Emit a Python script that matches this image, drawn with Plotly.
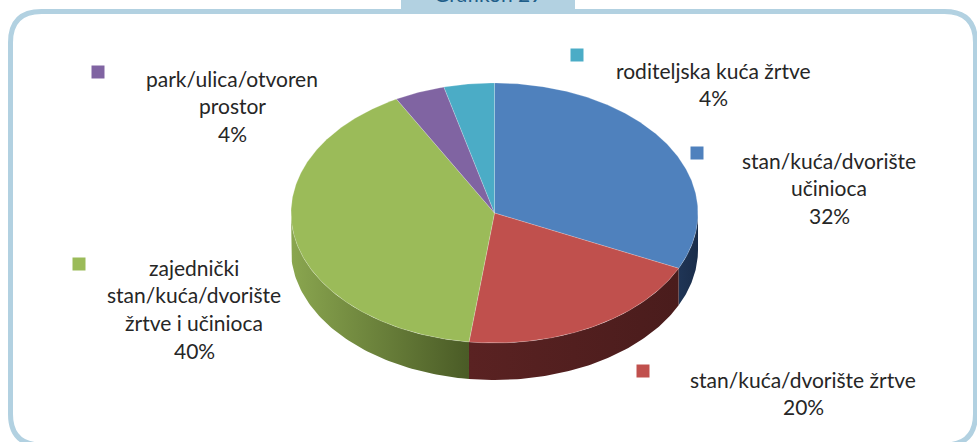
import numpy as np
import plotly.graph_objects as go

# ---------------- data ----------------
categories = [
    "stan/kuća/dvorište učinioca",
    "stan/kuća/dvorište žrtve",
    "zajednički stan/kuća/dvorište žrtve i učinioca",
    "park/ulica/otvoren prostor",
    "roditeljska kuća žrtve",
]
values = [32, 20, 40, 4, 4]
label_lines = [
    ["stan/kuća/dvorište", "učinioca"],
    ["stan/kuća/dvorište žrtve"],
    ["zajednički", "stan/kuća/dvorište", "žrtve i učinioca"],
    ["park/ulica/otvoren", "prostor"],
    ["roditeljska kuća žrtve"],
]
title_text = "Grafikon 29"

# ---------------- style ----------------
top_colors = ["#4F81BD", "#C0504D", "#9BBB59", "#8064A2", "#4BACC6"]
side_colors = [("#1F3556", "#1A2D4A"), ("#5A2222", "#4A1C1C"),
               ("#8AA64F", "#4A5B26"), ("#5A4672", "#4A3A5E"), ("#357A8C", "#2C6574")]
W, H = 977, 442
cx, cy, rx, ry, depth = 494.5, 213.0, 203.5, 130.0, 37.0
label_pos = [(829, 160), (803, 379), (194, 267), (232, 78), (713, 70)]
marker_pos = [(697, 153), (643, 371), (79, 264), (98, 72), (577, 55)]
line_h = 27.8
text_font = dict(family="Lato", size=21, color="#262626")
border_col = "#B2D1E1"

fig = go.Figure()

total = float(sum(values))
starts = np.cumsum([0] + values[:-1]) / total * 360.0
ends = np.cumsum(values) / total * 360.0


def pt(tdeg, dy=0.0):
    t = np.radians(tdeg)
    return cx + rx * np.sin(t), cy - ry * np.cos(t) + dy


# sides (front half only: 90..270 deg)
for i, (a, b) in enumerate(zip(starts, ends)):
    a2, b2 = max(a, 90.0), min(b, 270.0)
    if a2 >= b2:
        continue
    ts = np.linspace(a2, b2, 80)
    xt, yt = pt(ts)
    xb, yb = pt(ts[::-1], depth)
    xs = np.concatenate([xt, xb, xt[:1]])
    ys = np.concatenate([yt, yb, yt[:1]])
    c1, c2 = side_colors[i]
    fig.add_trace(go.Scatter(
        x=xs, y=ys, mode="lines", fill="toself",
        line=dict(width=0, color=c2),
        fillgradient=dict(type="horizontal",
                          colorscale=[[0, c1], [1, c2]]),
        hoverinfo="skip", showlegend=False))

# top slices
for i, (a, b) in enumerate(zip(starts, ends)):
    ts = np.linspace(a, b, max(int((b - a) * 2), 4))
    xt, yt = pt(ts)
    xs = np.concatenate([[cx], xt, [cx]])
    ys = np.concatenate([[cy], yt, [cy]])
    fig.add_trace(go.Scatter(
        x=xs, y=ys, mode="lines", fill="toself", fillcolor=top_colors[i],
        line=dict(width=0.6, color="rgba(255,255,255,0.35)"),
        name=categories[i], text=f"{values[i]}%",
        hoverinfo="name+text", showlegend=False))

# legend-like markers
fig.add_trace(go.Scatter(
    x=[p[0] for p in marker_pos], y=[p[1] for p in marker_pos],
    mode="markers", marker=dict(symbol="square", size=13, color=top_colors,
                                line=dict(width=0)),
    hoverinfo="skip", showlegend=False))

annotations = []
for i, lines in enumerate(label_lines):
    lx, ly = label_pos[i]
    all_lines = lines + [f"{values[i]}%"]
    for k, s in enumerate(all_lines):
        annotations.append(dict(x=lx, y=ly + k * line_h, text=s, showarrow=False,
                                xanchor="center", yanchor="middle",
                                font=text_font, xref="x", yref="y"))

annotations.append(dict(x=488 / W, y=1 + 7.0 / H, text=title_text, showarrow=False,
                        xanchor="center", yanchor="middle",
                        font=dict(family="Lato", size=21, color="#1F5F8A"),
                        xref="paper", yref="paper"))

x0, x1, y0, y1, r = 10.5, 975.5, 11.5, 445.0, 31.0
border_path = (f"M {x0 + r},{y0} L {x1 - r},{y0} Q {x1},{y0} {x1},{y0 + r} "
               f"L {x1},{y1 - r} Q {x1},{y1} {x1 - r},{y1} "
               f"L {x0 + r},{y1} Q {x0},{y1} {x0},{y1 - r} "
               f"L {x0},{y0 + r} Q {x0},{y0} {x0 + r},{y0} Z")

shapes = [
    dict(type="path", path=border_path, xref="x", yref="y",
         line=dict(color=border_col, width=5), layer="below"),
    dict(type="rect", x0=401, x1=575, y0=-10, y1=11, xref="x", yref="y",
         fillcolor=border_col, line=dict(width=0), layer="below"),
]

fig.update_layout(
    width=W, height=H, margin=dict(l=0, r=0, t=0, b=0),
    paper_bgcolor="white", plot_bgcolor="white",
    xaxis=dict(range=[0, W], visible=False, fixedrange=True),
    yaxis=dict(range=[H, 0], visible=False, fixedrange=True),
    annotations=annotations, shapes=shapes,
)
fig.write_html("out.html", config={"displayModeBar": False},
               post_script="document.body.style.margin='0';document.body.style.overflow='hidden';")
